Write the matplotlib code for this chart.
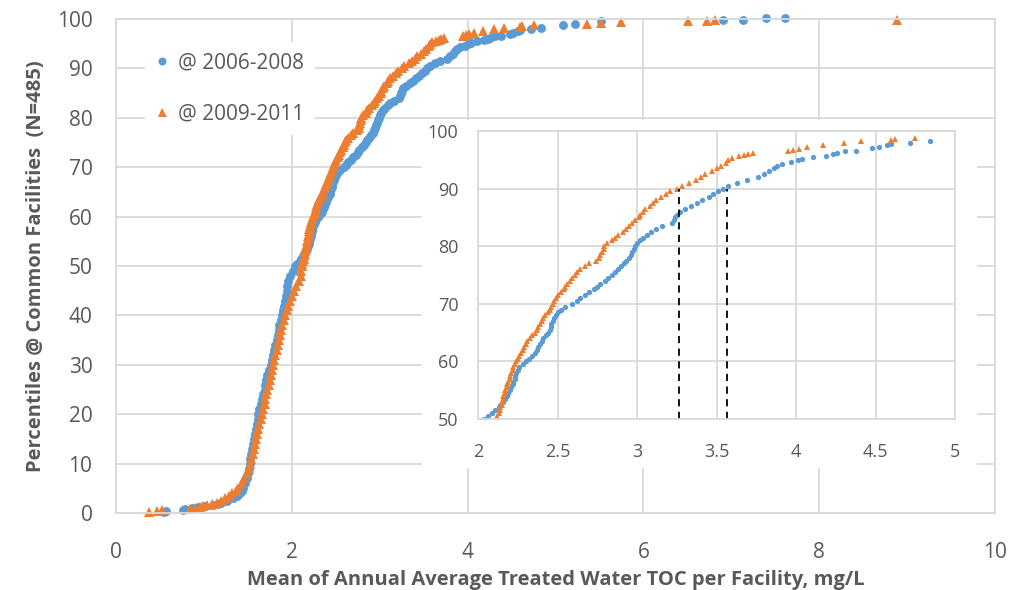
import matplotlib.pyplot as plt
from matplotlib.patches import Rectangle

plt.rcParams['font.family'] = ['Open Sans', 'DejaVu Sans']

# percentile levels (y) and facility TOC means (x)
blue_pct = [0.2, 0.4, 0.6, 0.8, 1.0, 1.2, 1.4, 1.6, 1.8, 2.0, 2.5, 3.0, 3.5, 4.0, 4.5, 5, 6, 7, 8, 9,
            10, 11, 12, 13, 14, 15, 16, 17, 18, 19, 20, 21, 22, 23, 24, 25, 26, 27, 28, 29,
            30, 31, 32, 33, 34, 35, 36, 37, 38, 39, 40, 41, 42, 43, 44, 45, 46, 47, 48, 49,
            50, 50.5, 51, 51.5, 52, 52.5, 53, 53.5, 54, 54.5, 55, 55.5, 56, 56.5, 57, 57.5,
            58, 58.5, 59, 59.5, 60, 60.5, 61, 61.5, 62, 62.5, 63, 63.5, 64, 64.5, 65, 65.5,
            66, 66.5, 67, 67.5, 68, 68.5, 69, 69.5, 70, 70.5, 71, 71.5, 72, 72.5, 73, 73.5,
            74, 74.5, 75, 75.5, 76, 76.5, 77, 77.5, 78, 78.5, 79, 79.5, 80, 80.5, 81, 81.5,
            82, 82.5, 83, 83.5, 84, 84.5, 85, 85.5, 86, 86.5, 87, 87.5, 88, 88.5, 89, 89.5,
            90, 90.5, 91, 91.5, 92, 92.5, 93, 93.5, 94,
            94.3, 94.6, 95.0, 95.2, 95.5, 95.7, 96.0, 96.2, 96.5, 96.6, 97.0, 97.2, 97.6, 97.8,
            97.9, 98.2, 98.8, 99.0, 99.6, 99.8, 99.8, 100.2, 100.2]
blue_toc = [0.55, 0.57, 0.76, 0.78, 0.86, 0.93, 1.00, 1.10, 1.16, 1.20, 1.26, 1.33, 1.38, 1.41, 1.43, 1.45, 1.47, 1.49, 1.50, 1.51,
            1.52, 1.53, 1.54, 1.55, 1.56, 1.57, 1.58, 1.59, 1.60, 1.61, 1.62, 1.63, 1.65, 1.66, 1.67, 1.69, 1.70, 1.71, 1.72, 1.74,
            1.76, 1.77, 1.79, 1.80, 1.81, 1.83, 1.84, 1.85, 1.86, 1.88, 1.89, 1.90, 1.91, 1.92, 1.93, 1.94, 1.95, 1.96, 1.98, 2.01,
            2.04, 2.06, 2.09, 2.11, 2.13, 2.14, 2.16, 2.17, 2.18, 2.19, 2.20, 2.21, 2.22, 2.22, 2.23, 2.23,
            2.24, 2.25, 2.26, 2.28, 2.30, 2.32, 2.34, 2.36, 2.37, 2.38, 2.39, 2.40, 2.41, 2.43, 2.44, 2.45,
            2.46, 2.46, 2.47, 2.48, 2.49, 2.50, 2.52, 2.55, 2.59, 2.62, 2.64, 2.67, 2.70, 2.73, 2.75, 2.77,
            2.80, 2.82, 2.84, 2.86, 2.88, 2.90, 2.92, 2.93, 2.95, 2.96, 2.97, 2.98, 2.99, 3.00, 3.02, 3.04,
            3.06, 3.09, 3.12, 3.16, 3.22, 3.23, 3.24, 3.25, 3.27, 3.30, 3.34, 3.38, 3.41, 3.45, 3.48, 3.51,
            3.54, 3.57, 3.63, 3.69, 3.76, 3.80, 3.83, 3.86, 3.88,
            3.91, 3.97, 4.01, 4.04, 4.11, 4.19, 4.23, 4.26, 4.31, 4.38, 4.48, 4.52, 4.57, 4.60,
            4.72, 4.84, 5.09, 5.22, 5.52, 6.91, 7.13, 7.40, 7.61]

orange_pct = [0.2, 0.4, 0.6, 0.8, 1.0, 1.2, 1.4, 1.6, 1.8, 2.0, 2.5, 3.0, 3.5, 4.0, 4.5, 5, 6, 7, 8, 9,
              10, 11, 12, 13, 14, 15, 16, 17, 18, 19, 20, 21, 22, 23, 24, 25, 26, 27, 28, 29,
              30, 31, 32, 33, 34, 35, 36, 37, 38, 39, 40, 41, 42, 43, 44, 45, 46, 47, 48, 49,
              50, 50.5, 51, 51.5, 52, 52.5, 53, 53.5, 54, 54.5, 55, 55.5, 56, 56.5, 57, 57.5,
              58, 58.5, 59, 59.5, 60, 60.5, 61, 61.5, 62, 62.5, 63, 63.5, 64, 64.5, 65, 65.5,
              66, 66.5, 67, 67.5, 68, 68.5, 69, 69.5, 70, 70.5, 71, 71.5, 72, 72.5, 73, 73.5,
              74, 74.5, 75, 75.5, 76, 76.5, 77, 77.5, 78, 78.5, 79, 79.5, 80, 80.5, 81, 81.5,
              82, 82.5, 83, 83.5, 84, 84.5, 85, 85.5, 86, 86.5, 87, 87.5, 88, 88.5, 89, 89.5,
              90, 90.5, 91, 91.5, 92, 92.5, 93, 93.5, 94, 94.5, 95,
              95.3, 95.6, 95.8, 96.0, 96.2, 96.5, 96.7, 96.9, 97.2, 97.5, 97.9, 98.2, 98.4, 98.6,
              98.8, 99.0, 99.2, 99.3, 99.5, 99.6, 99.8, 99.8]
orange_toc = [0.37, 0.47, 0.52, 0.84, 0.90, 0.95, 0.99, 1.03, 1.09, 1.15, 1.20, 1.24, 1.28, 1.32, 1.36, 1.39, 1.43, 1.46, 1.49, 1.51,
              1.52, 1.54, 1.56, 1.57, 1.58, 1.59, 1.60, 1.61, 1.63, 1.65, 1.66, 1.675, 1.69, 1.70, 1.71, 1.72, 1.74, 1.75, 1.76, 1.78,
              1.79, 1.80, 1.81, 1.83, 1.84, 1.86, 1.87, 1.88, 1.89, 1.91, 1.92, 1.94, 1.96, 1.98, 2.00, 2.02, 2.05, 2.08, 2.10, 2.11,
              2.12, 2.12, 2.13, 2.14, 2.14, 2.15, 2.15, 2.16, 2.16, 2.17, 2.17, 2.18, 2.18, 2.19, 2.20, 2.20,
              2.21, 2.22, 2.22, 2.23, 2.24, 2.25, 2.26, 2.27, 2.28, 2.29, 2.30, 2.31, 2.33, 2.34, 2.36, 2.37,
              2.38, 2.39, 2.40, 2.41, 2.42, 2.44, 2.45, 2.46, 2.47, 2.48, 2.49, 2.50, 2.52, 2.54, 2.55, 2.56,
              2.58, 2.59, 2.61, 2.62, 2.64, 2.67, 2.70, 2.74, 2.76, 2.77, 2.78, 2.79, 2.79, 2.81, 2.84, 2.86,
              2.88, 2.91, 2.93, 2.95, 2.97, 2.99, 3.01, 3.02, 3.04, 3.05, 3.08, 3.10, 3.12, 3.15, 3.18, 3.21,
              3.25, 3.28, 3.33, 3.37, 3.40, 3.43, 3.47, 3.50, 3.53, 3.56, 3.57,
              3.60, 3.64, 3.67, 3.70, 3.73, 3.95, 3.98, 4.02, 4.07, 4.17, 4.30, 4.41, 4.60, 4.62,
              4.75, 5.36, 5.52, 5.74, 6.51, 6.72, 6.81, 8.88]

# TOC where each series reaches the 90th percentile (dashed markers in the inset)
p90_toc = [3.265, 3.565]
p90_level = 90

blue = '#5B9BD5'
orange = '#ED7D31'
grid_c = '#D9D9D9'
text_c = '#595959'

W, H = 1013, 590
fig = plt.figure(figsize=(W / 100, H / 100), dpi=100)


def box(l, t, r, b):
    return [l / W, 1 - b / H, (r - l) / W, (b - t) / H]


ax = fig.add_axes(box(116, 19, 995, 513))
ax.plot(blue_toc, blue_pct, 'o', ms=6.4, mew=0, color=blue, clip_on=False, label='@ 2006-2008')
ax.plot(orange_toc, orange_pct, '^', ms=7.2, mew=0, color=orange, clip_on=False, label='@ 2009-2011')
ax.set_xlim(0, 10)
ax.set_ylim(0, 100)
ax.set_xticks(range(0, 11, 2))
ax.set_yticks(range(0, 101, 10))
ax.grid(True, color=grid_c, lw=1.3)
ax.set_axisbelow(True)
for s in ax.spines.values():
    s.set_color(grid_c)
    s.set_linewidth(1.3)
ax.tick_params(length=0, labelsize=15, colors=text_c)
ax.tick_params(axis='x', pad=21)
ax.tick_params(axis='y', pad=17)
ax.set_xlabel('Mean of Annual Average Treated Water TOC per Facility, mg/L',
              fontsize=14.5, fontweight='bold', color=text_c, labelpad=5)
ax.set_ylabel('Percentiles @ Common Facilities  (N=485)',
              fontsize=14.5, fontweight='bold', color=text_c, labelpad=8)

leg = ax.legend(loc='upper left', bbox_to_anchor=(145 / W, 1 - 42 / H), bbox_transform=fig.transFigure,
                frameon=True, facecolor='white', edgecolor='none', framealpha=1, fancybox=False,
                fontsize=15, labelcolor=text_c, handlelength=0.6, handletextpad=0.5,
                labelspacing=1.45, borderpad=0.5, borderaxespad=0, markerscale=0.9)

# white chart area behind the inset
fig.patches.append(Rectangle((422 / W, 1 - 468 / H), (977 - 422) / W, (468 - 120) / H,
                             transform=fig.transFigure, facecolor='white', edgecolor='none', zorder=1))

ins = fig.add_axes(box(478, 131, 955, 419))
ins.set_zorder(2)
ins.plot(blue_toc, blue_pct, 'o', ms=3.8, mew=0, color=blue)
ins.plot(orange_toc, orange_pct, '^', ms=4.6, mew=0, color=orange)
for xv in p90_toc:
    ins.plot([xv, xv], [50, p90_level], color='black', lw=1.3, ls=(0, (4, 3)))
ins.set_xlim(2, 5)
ins.set_ylim(50, 100)
ins.set_xticks([2, 2.5, 3, 3.5, 4, 4.5, 5])
ins.set_xticklabels(['2', '2.5', '3', '3.5', '4', '4.5', '5'])
ins.set_yticks(range(50, 101, 10))
ins.grid(True, color=grid_c, lw=1.3)
ins.set_axisbelow(True)
for s in ins.spines.values():
    s.set_color(grid_c)
    s.set_linewidth(1.3)
ins.tick_params(length=0, labelsize=13, colors=text_c)
ins.tick_params(axis='x', pad=17)
ins.tick_params(axis='y', pad=14)

fig.savefig('out.png', dpi=100)
